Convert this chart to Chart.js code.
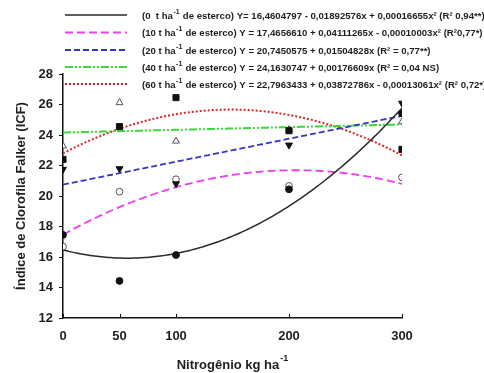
<!DOCTYPE html>
<html>
<head>
<meta charset="utf-8">
<script src="https://cdn.jsdelivr.net/npm/chart.js@4.4.1/dist/chart.umd.min.js"></script>
<style>
  html, body { margin: 0; padding: 0; background: #fff; }
  #wrap { width: 484px; height: 373px; }
</style>
</head>
<body>
<div id="wrap"><canvas id="c" width="484" height="373"></canvas></div>
<script>
// Nitrogen doses (kg ha-1) and measured chlorophyll index per manure dose
const nitrogen = [0, 50, 100, 200, 300];
const manureDoses = ['0 ', '10', '20', '40', '60'];
const icf0t  = [17.45, 14.43, 16.13, 20.44, 25.42];
const icf10t = [16.68, 20.28, 21.10, 20.66, 21.22];
const icf20t = [21.75, 21.79, 20.80, 23.34, 26.08];
const icf40t = [23.28, 26.12, 23.60, 24.35, 24.87];
const icf60t = [22.40, 24.55, 26.45, 24.28, 23.06];

// Regression coefficients a, b, c of Y = a + b*x + c*x^2
const coef0t  = [16.4604797, -0.01892576, 0.00016655];
const coef10t = [17.4656610, 0.04111265, -0.00010003];
const coef20t = [20.7450575, 0.01504828, 0];
const coef40t = [24.1630747, 0.00176609, 0];
const coef60t = [22.7963433, 0.03872786, -0.00013061];
const eqLead = ['Y= ', 'Y = ', 'Y = ', 'Y = ', 'Y = '];
const r2Labels = ['(R\u00B2 0,94**)', '(R\u00B20,77*)', '(R\u00B2 = 0,77**)', '(R\u00B2 = 0,04 NS)', '(R\u00B2 0,72*)'];

const xTicks = [0, 50, 100, 200, 300];
const yTicks = [12, 14, 16, 18, 20, 22, 24, 26, 28];

const FONT = "'Liberation Sans', Arial, sans-serif";

function fitted(coef) {
  const pts = [];
  for (let x = 0; x <= 300; x += 2) {
    pts.push({ x: x, y: coef[0] + coef[1] * x + coef[2] * x * x });
  }
  return pts;
}
function pairs(values) {
  return nitrogen.map((x, i) => ({ x: x, y: values[i] }));
}
function fmt(v, d) { return Math.abs(v).toFixed(d).replace('.', ','); }
function equation(coef, i) {
  let s = eqLead[i] + fmt(coef[0], 7);
  s += (coef[1] < 0 ? ' - ' : ' + ') + fmt(coef[1], 8) + 'x';
  if (coef[2] !== 0) s += (coef[2] < 0 ? ' - ' : ' + ') + fmt(coef[2], 8) + 'x\u00B2';
  return s + ' ' + r2Labels[i];
}

const coefs = [coef0t, coef10t, coef20t, coef40t, coef60t];
const lineStyles = [
  { color: '#2a2a2a', dash: [], width: 1.5 },
  { color: '#f03cf0', dash: [8, 4], width: 1.8 },
  { color: '#3535c8', dash: [6, 3], width: 1.8 },
  { color: '#36dc36', dash: [8, 2, 2, 2, 2, 2], width: 2 },
  { color: '#e02222', dash: [2, 2], width: 2 }
];

const curveSets = coefs.map((c, i) => ({
  type: 'line',
  data: fitted(c),
  borderColor: lineStyles[i].color,
  borderDash: lineStyles[i].dash,
  borderWidth: lineStyles[i].width,
  pointRadius: 0,
  tension: 0,
  fill: false,
  order: 3
}));

const pointSets = [
  { data: pairs(icf0t),  pointStyle: 'circle',   pointRadius: 3.4, pointBackgroundColor: '#111', pointBorderColor: '#111', order: 0 },
  { data: pairs(icf20t), pointStyle: 'triangle', pointRadius: 4,   rotation: 180, pointBackgroundColor: '#111', pointBorderColor: '#111', order: 0 },
  { data: pairs(icf60t), pointStyle: 'rect',     pointRadius: 4.3, pointBackgroundColor: '#111', pointBorderColor: '#111', order: 0 },
  { data: pairs(icf10t), pointStyle: 'circle',   pointRadius: 3.4, pointBackgroundColor: '#fff', pointBorderColor: '#555', order: 1 },
  { data: pairs(icf40t), pointStyle: 'triangle', pointRadius: 4,   pointBackgroundColor: '#fff', pointBorderColor: '#555', order: 1 }
].map(d => Object.assign({ type: 'scatter', showLine: false, pointBorderWidth: 1, pointRotation: d.rotation || 0 }, d));

// Equation legend, inward x ticks and the x-axis title (legend and title carry superscripts)
const overlay = {
  id: 'overlay',
  afterDraw(chart) {
    const ctx = chart.ctx;
    ctx.save();
    const rowY = [15, 32.5, 50, 67, 84];
    coefs.forEach((c, i) => {
      const y = rowY[i];
      const st = lineStyles[i];
      ctx.strokeStyle = st.color;
      ctx.lineWidth = st.width;
      ctx.setLineDash(st.dash);
      ctx.beginPath();
      ctx.moveTo(65, y);
      ctx.lineTo(127, y);
      ctx.stroke();
      ctx.setLineDash([]);

      ctx.fillStyle = '#1e1e1e';
      ctx.textBaseline = 'middle';
      ctx.textAlign = 'left';
      let x = 142;
      const ty = y + 1;
      ctx.font = 'bold 9.6px ' + FONT;
      const p1 = '(' + manureDoses[i] + ' t ha';
      ctx.fillText(p1, x, ty);
      x += ctx.measureText(p1).width;
      ctx.font = 'bold 7px ' + FONT;
      ctx.fillText('-1', x + 0.5, ty - 4);
      x += ctx.measureText('-1').width + 1;
      ctx.font = 'bold 9.6px ' + FONT;
      ctx.fillText(' de esterco) ' + equation(c, i), x, ty);
    });

    // short ticks pointing up from the x axis
    const xs = chart.scales.x;
    const area = chart.chartArea;
    ctx.strokeStyle = '#111';
    ctx.lineWidth = 1;
    xTicks.forEach(v => {
      const px = Math.round(xs.getPixelForValue(v)) + 0.5;
      ctx.beginPath();
      ctx.moveTo(px, area.bottom);
      ctx.lineTo(px, area.bottom - 4);
      ctx.stroke();
    });

    // x-axis title
    const cx = (area.left + area.right) / 2;
    ctx.fillStyle = '#1e1e1e';
    ctx.textBaseline = 'middle';
    ctx.font = 'bold 13px ' + FONT;
    const main = 'Nitrog\u00EAnio kg ha';
    const wMain = ctx.measureText(main).width;
    ctx.font = 'bold 9px ' + FONT;
    const wSup = ctx.measureText('-1').width;
    const x0 = cx - (wMain + wSup + 1) / 2;
    ctx.font = 'bold 13px ' + FONT;
    ctx.textAlign = 'left';
    ctx.fillText(main, x0, 365);
    ctx.font = 'bold 9px ' + FONT;
    ctx.fillText('-1', x0 + wMain + 1, 359);
    ctx.restore();
  }
};

new Chart(document.getElementById('c'), {
  type: 'scatter',
  data: { datasets: pointSets.concat(curveSets) },
  options: {
    responsive: false,
    animation: false,
    devicePixelRatio: 1,
    layout: { padding: { left: 0, top: 74, right: 82, bottom: 0 } },
    plugins: { legend: { display: false }, tooltip: { enabled: false } },
    scales: {
      x: {
        type: 'linear',
        min: 0, max: 300,
        afterBuildTicks(scale) { scale.ticks = xTicks.map(v => ({ value: v })); },
        afterFit(scale) { scale.height = 55; },
        grid: { display: false, drawOnChartArea: false, drawTicks: false },
        border: { display: true, color: '#111', width: 1.5 },
        ticks: { color: '#1e1e1e', padding: 11, maxRotation: 0, font: { family: FONT, size: 13, weight: 'bold' } }
      },
      y: {
        type: 'linear',
        min: 12, max: 28,
        afterBuildTicks(scale) { scale.ticks = yTicks.map(v => ({ value: v })); },
        afterFit(scale) { scale.width = 63; },
        grid: { display: true, drawOnChartArea: false, drawTicks: true, tickLength: 4, color: '#111', lineWidth: 1 },
        border: { display: true, color: '#111', width: 1.5 },
        ticks: { color: '#1e1e1e', padding: 6, font: { family: FONT, size: 13, weight: 'bold' } },
        title: {
          display: true,
          text: '\u00CDndice de Clorofila Falker (ICF)',
          color: '#1e1e1e',
          padding: { top: 14, bottom: 0 },
          font: { family: FONT, size: 13, weight: 'bold' }
        }
      }
    }
  },
  plugins: [overlay]
});
</script>
</body>
</html>
